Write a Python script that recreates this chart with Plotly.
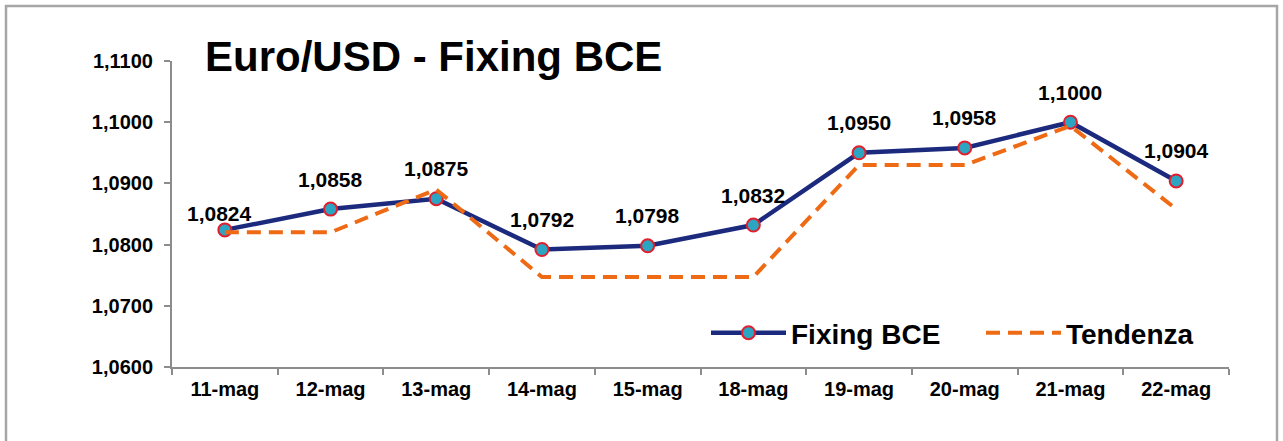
import plotly.graph_objects as go

categories = ["11-mag", "12-mag", "13-mag", "14-mag", "15-mag",
              "18-mag", "19-mag", "20-mag", "21-mag", "22-mag"]
fixing_bce = [1.0824, 1.0858, 1.0875, 1.0792, 1.0798,
              1.0832, 1.0950, 1.0958, 1.1000, 1.0904]
tendenza = [1.0820, 1.0820, 1.0890, 1.0747, 1.0747,
            1.0747, 1.0930, 1.0930, 1.0994, 1.0858]
y_ticks = [1.06, 1.07, 1.08, 1.09, 1.10, 1.11]

FONT = "Arial, 'Liberation Sans', sans-serif"
NAVY = "#1c2a7e"
ORANGE = "#ee6a14"
TEAL = "#2ca5c2"
RED = "#e0202e"
GRAY = "#8c8c8c"

W, H = 1283, 441
# plot area in screen pixels: x 172..1229, y 61..367
L, T = 172, 61
R = W - 1229
B = H - 367
pw, ph = W - L - R, H - T - B


def px_x(p):
    return (p - L) / pw


def px_y(p):
    return (H - B - p) / ph


fig = go.Figure()
fig.add_trace(go.Scatter(
    x=categories, y=fixing_bce, name="Fixing BCE", mode="lines+markers",
    line=dict(color=NAVY, width=4.5),
    marker=dict(size=13, color=TEAL, line=dict(color=RED, width=2)),
))
fig.add_trace(go.Scatter(
    x=categories, y=tendenza, name="Tendenza", mode="lines",
    line=dict(color=ORANGE, width=4, dash="14px,8px"),
))

annotations = []
for i, (c, v) in enumerate(zip(categories, fixing_bce)):
    annotations.append(dict(
        x=c, y=v, xref="x", yref="y", text=f"{v:.4f}".replace(".", ","),
        showarrow=False, yanchor="middle", xanchor="center",
        yshift=16 if i == 0 else 30, xshift=-5 if i == 0 else 0,
        font=dict(family=FONT, size=21, color="black", weight="bold"),
    ))
annotations.append(dict(
    x=px_x(203), y=px_y(56), xref="paper", yref="paper",
    text="<b>Euro/USD - Fixing BCE</b>", showarrow=False,
    xanchor="left", yanchor="middle",
    font=dict(family=FONT, size=42, color="black"),
))

fig.update_layout(
    width=W, height=H,
    margin=dict(l=L, r=R, t=T, b=B, pad=0),
    paper_bgcolor="white", plot_bgcolor="white",
    separators=",.",
    font=dict(family=FONT, color="black"),
    showlegend=True,
    hovermode=False,
    legend=dict(
        orientation="h", x=px_x(706), y=px_y(333), xanchor="left", yanchor="middle",
        font=dict(family=FONT, size=28, color="black", weight="bold"),
        bgcolor="rgba(0,0,0,0)", itemwidth=75, entrywidth=185,
    ),
    annotations=annotations,
    shapes=[dict(
        type="rect", xref="paper", yref="paper",
        x0=px_x(6), x1=px_x(1277), y0=px_y(470), y1=px_y(6),
        line=dict(color="#a6a6a6", width=2.5), fillcolor="rgba(0,0,0,0)", layer="below",
    )],
    xaxis=dict(
        type="category", range=[-0.5, len(categories) - 0.5],
        showline=True, linecolor=GRAY, linewidth=2,
        ticks="outside", tickson="boundaries", ticklen=6, tickcolor=GRAY, tickwidth=2,
        showgrid=False, zeroline=False,
        tickfont=dict(family=FONT, size=20, color="black", weight="bold"),
        ticklabelstandoff=3,
    ),
    yaxis=dict(
        range=[y_ticks[0], y_ticks[-1]], tickvals=y_ticks, tickformat=".4f",
        showline=True, linecolor=GRAY, linewidth=2,
        ticks="outside", ticklen=6, tickcolor=GRAY, tickwidth=2,
        showgrid=False, zeroline=False,
        tickfont=dict(family=FONT, size=20, color="black", weight="bold"),
        ticklabelstandoff=7,
    ),
)

fig.write_html(
    "out.html",
    config={"displayModeBar": False},
    post_script="document.body.style.margin='0';document.body.style.overflow='hidden';",
)
